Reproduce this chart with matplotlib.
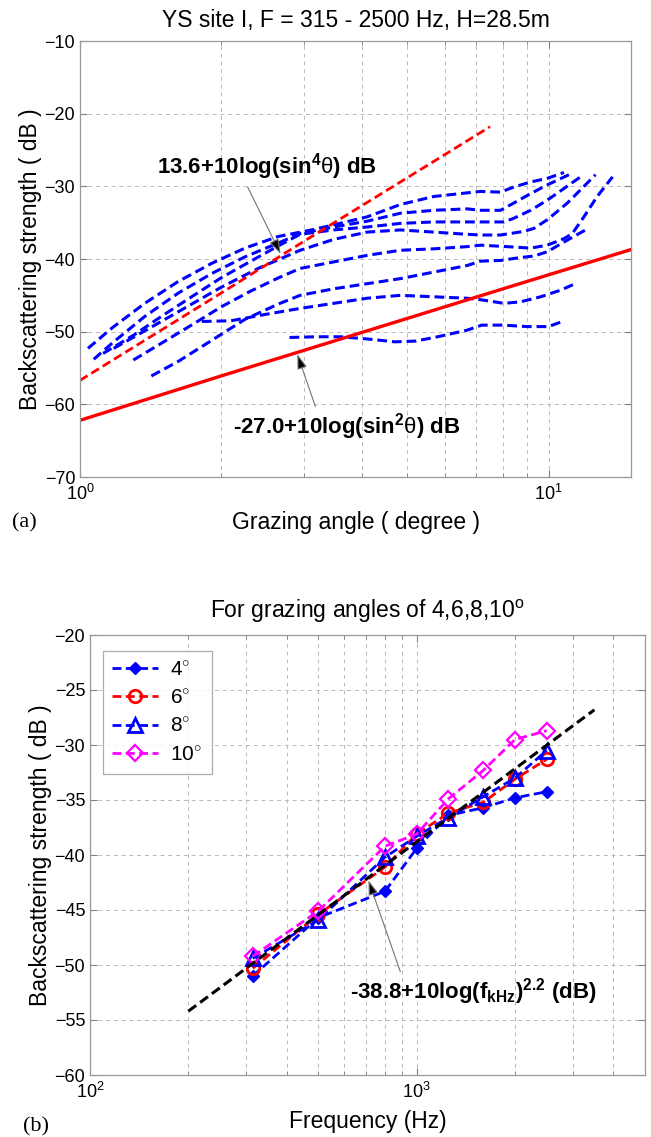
import matplotlib
matplotlib.use("Agg")
import matplotlib.pyplot as plt
from matplotlib.ticker import NullFormatter, MultipleLocator

plt.rcParams['font.family'] = ['Liberation Sans', 'DejaVu Sans']
plt.rcParams['mathtext.fontset'] = 'custom'
plt.rcParams['mathtext.rm'] = 'Liberation Sans'
plt.rcParams['mathtext.it'] = 'Liberation Sans:italic'
plt.rcParams['mathtext.bf'] = 'Liberation Sans:bold'

# ---- panel (a): backscattering strength vs grazing angle, one curve per band
ang_315 = [2.8, 3.2, 3.6, 4.1, 4.7, 5.2, 5.8, 6.7, 7.2, 8.0, 9.0, 10.0, 10.7]
bs_315 = [-50.8, -50.7, -50.7, -51.0, -51.4, -51.3, -50.7, -49.8, -49.1,
          -49.1, -49.3, -49.3, -48.6]

ang_500 = [1.82, 2.1, 2.5, 2.95, 3.48, 4.1, 4.83, 5.69, 6.7, 7.16, 8.03,
           8.71, 9.62, 10.6, 11.5]
bs_500 = [-48.6, -48.5, -47.6, -46.8, -46.1, -45.4, -45.0, -45.2, -45.4,
          -45.6, -46.1, -45.9, -45.2, -44.3, -43.3]

ang_800 = [1.42, 1.62, 1.91, 2.25, 2.65, 2.95, 3.48, 4.1, 4.83, 5.69, 6.7,
           7.16, 7.9, 8.7, 9.3, 9.94, 10.97, 12.0]
bs_800 = [-56.1, -54.1, -51.2, -48.3, -46.2, -45.0, -44.1, -43.4, -42.7,
          -41.8, -40.9, -40.3, -40.2, -39.8, -39.6, -39.0, -37.4, -36.0]

ang_1000 = [1.30, 1.5, 1.75, 2.0, 2.3, 2.65, 2.95, 3.48, 4.1, 4.83, 5.69,
            6.7, 7.16, 8.17, 9.16, 9.94, 10.79, 11.24, 11.9, 12.7, 13.7]
bs_1000 = [-53.9, -51.5, -48.9, -46.6, -44.5, -42.6, -41.3, -40.4, -39.5,
           -38.8, -38.6, -38.3, -38.1, -38.3, -38.5, -38.1, -37.2, -36.5,
           -34.2, -31.4, -28.7]

ang_1250 = [1.18, 1.4, 1.7, 2.0, 2.4, 2.95, 3.48, 4.1, 4.83, 5.69, 6.7,
            7.16, 7.9, 8.86, 9.3, 9.94, 10.97, 12.6]
bs_1250 = [-52.3, -49.6, -46.5, -43.9, -41.3, -38.8, -37.3, -36.3, -36.0,
           -36.3, -36.6, -36.7, -36.7, -36.2, -35.8, -34.6, -32.3, -28.4]

ang_1600 = [1.12, 1.3, 1.5, 1.75, 2.0, 2.3, 2.65, 2.95, 3.48, 4.1, 4.83,
            5.69, 6.7, 7.16, 8.03, 8.43, 9.16, 9.94, 10.79, 11.7]
bs_1600 = [-53.0, -50.5, -47.8, -45.0, -42.6, -40.4, -38.2, -36.6, -36.0,
           -35.6, -35.1, -34.9, -34.9, -34.9, -34.9, -34.4, -33.3, -31.9,
           -30.3, -28.7]

ang_2000 = [1.07, 1.17, 1.375, 1.62, 1.91, 2.25, 2.65, 2.95, 3.48, 4.1,
            4.83, 5.69, 6.7, 7.16, 7.9, 8.43, 9.16, 9.94, 11.06]
bs_2000 = [-53.8, -51.6, -47.9, -44.7, -42.0, -39.7, -37.8, -36.5, -35.6,
           -34.8, -33.7, -33.3, -33.1, -33.3, -33.3, -32.3, -31.0, -29.8,
           -28.4]

ang_2500 = [1.04, 1.17, 1.375, 1.62, 1.91, 2.25, 2.65, 3.12, 3.48, 4.1,
            4.83, 5.69, 6.7, 7.16, 7.9, 8.43, 9.16, 9.94, 10.79]
bs_2500 = [-52.3, -49.5, -46.1, -43.1, -40.6, -38.5, -36.9, -36.0, -35.3,
           -34.2, -32.5, -31.4, -30.9, -30.7, -30.8, -30.1, -29.4, -28.9,
           -28.1]

# model curves
sin4_ang = [1.0, 2.0, 3.0, 5.0, 7.5]
sin4_bs = [-56.7, -44.7, -37.6, -28.8, -21.8]
sin2_ang = [1.0, 2.0, 4.0, 8.0, 15.0]
sin2_bs = [-62.2, -56.1, -50.1, -44.1, -38.7]

# ---- panel (b): backscattering strength vs frequency
freq_hz = [315, 500, 800, 1000, 1250, 1600, 2000, 2500]
bs_4deg = [-51.0, -45.7, -43.3, -39.4, -36.4, -35.7, -34.8, -34.25]
bs_6deg = [-50.3, -45.4, -41.1, -38.1, -36.2, -35.2, -33.1, -31.3]
bs_8deg = [-49.4, -45.9, -40.2, -38.3, -36.6, -34.7, -33.0, -30.5]
bs_10deg = [-49.2, -45.1, -39.2, -38.1, -34.9, -32.3, -29.5, -28.7]
fit_freq = [200, 3500]
fit_bs = [-54.2, -26.8]

W, H = 651, 1137
fig = plt.figure(figsize=(W / 100, H / 100), dpi=100)

GRID = dict(linestyle=(0, (4, 4)), color='0.72', linewidth=0.7)
DASH = (0, (3.2, 1.6))
TICK_FS = 13
LABEL_FS = 16.5


def style_axes(ax):
    for sp in ax.spines.values():
        sp.set_color('0.6')
        sp.set_linewidth(0.9)
    ax.tick_params(which='both', direction='in', top=True, right=True,
                   labelsize=TICK_FS, color='0.5')
    ax.tick_params(which='major', length=5)
    ax.tick_params(which='minor', length=3)
    ax.tick_params(axis='x', which='major', pad=5)
    ax.xaxis.set_minor_formatter(NullFormatter())
    ax.grid(True, which='both', axis='x', **GRID)
    ax.grid(True, which='major', axis='y', **GRID)
    ax.set_axisbelow(True)


def arrow(ax, head, tail):
    ax.annotate('', xy=head, xytext=tail,
                arrowprops=dict(arrowstyle='-|>,head_length=0.9,head_width=0.3',
                                fc='black', ec='0.45', lw=0.8,
                                shrinkA=0, shrinkB=0))


# ---------------- panel (a)
ax1 = fig.add_axes([80 / W, 1 - 477 / H, 551 / W, 436 / H])
bands = [(ang_315, bs_315), (ang_500, bs_500), (ang_800, bs_800),
         (ang_1000, bs_1000), (ang_1250, bs_1250), (ang_1600, bs_1600),
         (ang_2000, bs_2000), (ang_2500, bs_2500)]
for a, b in bands:
    ax1.plot(a, b, color='blue', linestyle=DASH, linewidth=2.2)
ax1.plot(sin4_ang, sin4_bs, color='red', linestyle=DASH, linewidth=2.0)
ax1.plot(sin2_ang, sin2_bs, color='red', linewidth=2.4)

ax1.set_xscale('log')
ax1.set_xlim(1, 15)
ax1.set_ylim(-70, -10)
ax1.yaxis.set_major_locator(MultipleLocator(10))
style_axes(ax1)
ax1.set_title('YS site I, F = 315 - 2500 Hz, H=28.5m', fontsize=LABEL_FS,
              pad=10)
ax1.set_xlabel('Grazing angle ( degree )', fontsize=LABEL_FS, labelpad=5)
ax1.set_ylabel('Backscattering strength ( dB )', fontsize=LABEL_FS,
               labelpad=2)

ax1.text(1.46, -27.3, r'13.6+10log(sin$^{\mathbf{4}}\mathrm{θ}$) dB',
         fontsize=16, fontweight='bold', va='center', ha='left')
arrow(ax1, (2.68, -39.3), (2.28, -30.1))
ax1.text(2.12, -63.1, r'-27.0+10log(sin$^{\mathbf{2}}\mathrm{θ}$) dB',
         fontsize=16, fontweight='bold', va='center', ha='left')
arrow(ax1, (2.91, -53.1), (3.18, -60.3))

# ---------------- panel (b)
ax2 = fig.add_axes([90 / W, 1 - 1075 / H, 555 / W, 440 / H])
ax2.plot(freq_hz, bs_4deg, color='blue', linestyle=DASH, linewidth=2.0,
         marker='D', markersize=6, markerfacecolor='blue',
         label=r'4$^{\circ}$')
ax2.plot(freq_hz, bs_6deg, color='red', linestyle=DASH, linewidth=2.0,
         marker='o', markersize=9, markerfacecolor='none',
         markeredgewidth=2, label=r'6$^{\circ}$')
ax2.plot(freq_hz, bs_8deg, color='blue', linestyle=DASH, linewidth=2.0,
         marker='^', markersize=10, markerfacecolor='none',
         markeredgewidth=2, label=r'8$^{\circ}$')
ax2.plot(freq_hz, bs_10deg, color='magenta', linestyle=DASH, linewidth=2.0,
         marker='D', markersize=8, markerfacecolor='none',
         markeredgewidth=1.6, label=r'10$^{\circ}$')
ax2.plot(fit_freq, fit_bs, color='black', linestyle=DASH, linewidth=2.2)

ax2.set_xscale('log')
ax2.set_xlim(100, 5000)
ax2.set_ylim(-60, -20)
ax2.yaxis.set_major_locator(MultipleLocator(5))
style_axes(ax2)
ax2.set_title(r'For grazing angles of 4,6,8,10$^\mathrm{o}$',
              fontsize=LABEL_FS, pad=12)
ax2.set_xlabel('Frequency (Hz)', fontsize=LABEL_FS, labelpad=6)
ax2.set_ylabel('Backscattering strength ( dB )', fontsize=LABEL_FS,
               labelpad=2)
leg = ax2.legend(loc='upper left', fontsize=15, handlelength=2.2,
                 handletextpad=0.6, fancybox=False, borderpad=0.45,
                 labelspacing=0.45, bbox_to_anchor=(0.004, 0.988))
leg.get_frame().set_edgecolor('0.6')
leg.get_frame().set_linewidth(0.9)

ax2.text(624, -52.4, r'-38.8+10log(f$_{\mathbf{kHz}}$)$^{\mathbf{2.2}}$ (dB)',
         fontsize=16, fontweight='bold', va='center', ha='left')
arrow(ax2, (712, -42.3), (891, -50.6))

fig.text(12 / W, 1 - 523 / H, '(a)', family='Liberation Serif', fontsize=16,
         va='center', ha='left')
fig.text(23 / W, 1 - 1127 / H, '(b)', family='Liberation Serif', fontsize=16,
         va='center', ha='left')

fig.savefig('out.png', dpi=100)
